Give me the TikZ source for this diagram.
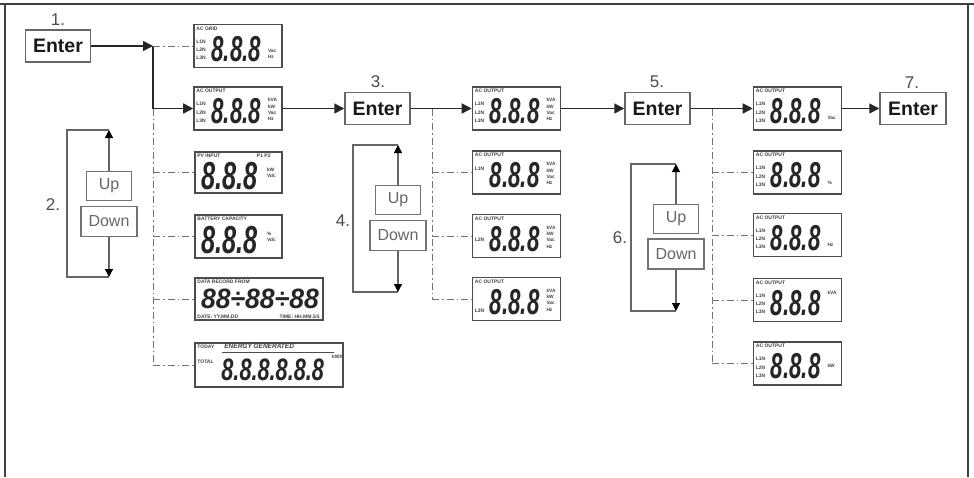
\documentclass[tikz,border=0pt]{standalone}
\usepackage{fontspec}
\setmainfont{Liberation Sans}
\usepackage{graphicx}
\usetikzlibrary{arrows.meta,calc}
\newcommand\tinyfont{\fontsize{5}{5.5}\selectfont\bfseries}
\newcommand\tinylines{\fontsize{5}{8.2}\selectfont\bfseries}
\newcommand\unitlines{\fontsize{4.8}{6.2}\selectfont\bfseries}
\newcommand\digfont{\fontsize{36}{36}\selectfont\bfseries\itshape}
\tikzset{
 enterbox/.style={draw=black!60, line width=1.5pt, font=\fontsize{19.5}{19.5}\selectfont\bfseries, text=black!90, minimum width=65pt, minimum height=32pt, inner sep=0pt},
 upbox/.style={draw=black!55, line width=1.1pt, font=\fontsize{16}{16}\selectfont, text=black!60, minimum width=45pt, minimum height=29pt, inner sep=0pt},
 downbox/.style={upbox, minimum width=56pt, minimum height=30pt},
 numlabel/.style={font=\fontsize{17}{17}\selectfont, text=black!70, inner sep=0pt},
 lcd/.style={draw=black!70, line width=1.6pt, minimum width=88pt, minimum height=43pt, inner sep=0pt},
 tiny/.style={font=\tinyfont, text=black!75, inner sep=0pt},
 dig/.style={font=\digfont, text=black!85, inner sep=0pt},
 mainarrow/.style={draw=black!85, line width=1.6pt, -{Triangle[length=10pt,width=10pt]}},
 mainline/.style={draw=black!85, line width=1.6pt},
 dashdot/.style={draw=black!55, line width=0.9pt, dash pattern=on 7pt off 3pt on 1.5pt off 3pt},
 udarrow/.style={draw=black!60, line width=1.2pt, -{Triangle[length=8pt,width=8pt,color=black]}},
 bracket/.style={draw=black!60, line width=1.2pt},
 frame/.style={draw=black!75, line width=1.6pt},
}
% #1 name, #2 centre, #3 title, #4 left labels, #5 units, #6 units vertical offset
\newcommand\acpanel[6]{%
 \node[lcd] (#1) at (#2) {};
 \node[tiny, anchor=north west] at ($(#1.north west)+(3,3)$) {#3};
 \node[tiny, anchor=west, align=left, font=\tinylines] at ($(#1.west)+(3,4)$) {#4};
 \node[dig, anchor=west] at ($(#1.west)+(18,3)$) {\scalebox{0.62}[1]{8.8.8}};
 \node[tiny, anchor=west, align=left, font=\unitlines] at ($(#1.east)+(-15,#6)$) {#5};
}
\begin{document}
\begin{tikzpicture}[x=1pt,y=-1pt]
\useasboundingbox (0,0) rectangle (974,477);
\fill[white] (0,0) rectangle (974,477);
% frame
\draw[frame] (0,4) -- (974,4);
\draw[frame] (5,4) -- (5,477);
\draw[frame] (968,4) -- (968,477);

% Enter boxes and step numbers
\node[enterbox] (e1) at (58,46) {Enter};
\node[enterbox] (e3) at (377.5,108.5) {Enter};
\node[enterbox] (e5) at (657.5,108.5) {Enter};
\node[enterbox, minimum width=66pt] (e7) at (913,108.5) {Enter};
\node[numlabel] (n1) at (58,19.5) {1.};
\node[numlabel] (n3) at (378,81.5) {3.};
\node[numlabel] (n5) at (657,81.5) {5.};
\node[numlabel] (n7) at (912,82.5) {7.};

% column 1 panels
\acpanel{a1}{238,46}{AC GRID}{L1N\\L2N\\L3N}{Vac\\Hz}{8}
\acpanel{a2}{238,108.5}{AC OUTPUT}{L1N\\L2N\\L3N}{kVA\\kW\\Vac\\Hz}{1}
\node[lcd, minimum width=87pt, minimum height=41pt] (a3) at (238.5,172.5) {};
\node[tiny, anchor=north west] at ($(a3.north west)+(3,3)$) {PV INPUT};
\node[tiny, anchor=north east] at ($(a3.north east)+(-12,3)$) {P1 P2};
\node[dig, anchor=west, font=\fontsize{39}{39}\selectfont\bfseries\itshape] at ($(a3.west)+(7,4)$) {\scalebox{0.65}[1]{8.8.8}};
\node[tiny, anchor=west, align=left, font=\unitlines] at ($(a3.east)+(-16,0)$) {kW\\Vdc};
\node[lcd, minimum width=87pt, minimum height=43pt] (a4) at (238.5,236.5) {};
\node[tiny, anchor=north west] at ($(a4.north west)+(3,3)$) {BATTERY CAPACITY};
\node[dig, anchor=west, font=\fontsize{39}{39}\selectfont\bfseries\itshape] at ($(a4.west)+(7,4)$) {\scalebox{0.65}[1]{8.8.8}};
\node[tiny, anchor=west, align=left, font=\unitlines] at ($(a4.east)+(-16,0)$) {\%\\Vdc};
\node[lcd, minimum width=128pt, minimum height=42pt] (a5) at (259,299) {};
\node[tiny, anchor=north west] at ($(a5.north west)+(3,3)$) {DATA RECORD FROM};
\node[dig, font=\fontsize{28}{28}\selectfont\bfseries\itshape] at ($(a5.center)+(1,0)$) {\scalebox{0.95}[1]{88÷88÷88}};
\node[tiny, anchor=south west] at ($(a5.south west)+(3,-2)$) {DATE: YY.MM.DD};
\node[tiny, anchor=south east] at ($(a5.south east)+(-4,-2)$) {TIME: HH.MM.SS};
\node[lcd, minimum width=148pt, minimum height=44pt] (a6) at (269,365) {};
\node[tiny, anchor=north west] at ($(a6.north west)+(3,3)$) {TODAY};
\node[tiny, anchor=north west, font=\fontsize{6.5}{7}\selectfont\bfseries\itshape] (eg) at ($(a6.north west)+(30,2)$) {ENERGY GENERATED};
\draw[black!70, line width=0.8pt] ($(a6.north west)+(28,10)$) -- ($(a6.north east)+(-10,10)$);
\node[tiny, anchor=west] at ($(a6.west)+(3,-3)$) {TOTAL};
\node[dig, anchor=west, font=\fontsize{31}{31}\selectfont\bfseries\itshape] at ($(a6.west)+(27,5)$) {\scalebox{0.7}[1]{8.8.8.8.8.8}};
\node[tiny, anchor=west] at ($(a6.east)+(-12,-8)$) {kWh};

% column 2 panels
\acpanel{b1}{516.5,108.5}{AC OUTPUT}{L1N\\L2N\\L3N}{kVA\\kW\\Vac\\Hz}{1}
\acpanel{b2}{516.5,172.5}{AC OUTPUT}{L1N\\\phantom{L}\\\phantom{L}}{kVA\\kW\\Vac\\Hz}{1}
\acpanel{b3}{516.5,236}{AC OUTPUT}{\phantom{L}\\L2N\\\phantom{L}}{kVA\\kW\\Vac\\Hz}{1}
\acpanel{b4}{516.5,299}{AC OUTPUT}{\phantom{L}\\\phantom{L}\\L3N}{kVA\\kW\\Vac\\Hz}{1}

% column 3 panels
\acpanel{c1}{797.5,108.5}{AC OUTPUT}{L1N\\L2N\\L3N}{Vac}{9}
\acpanel{c2}{797.5,172.5}{AC OUTPUT}{L1N\\L2N\\L3N}{\%}{10}
\acpanel{c3}{797.5,235}{AC OUTPUT}{L1N\\L2N\\L3N}{Hz}{10}
\acpanel{c4}{797.5,300}{AC OUTPUT}{L1N\\L2N\\L3N}{kVA}{-7}
\acpanel{c5}{797.5,363.5}{AC OUTPUT}{L1N\\L2N\\L3N}{kW}{2}

% main flow
\coordinate (j1) at (153,46);
\coordinate (j1b) at (153,108.5);
\draw[mainarrow] (e1.east) -- (j1);
\draw[mainline] (j1) -- (j1b);
\draw[mainarrow] (j1b) -- (a2.west);
\draw[dashdot] (j1) -- (a1.west);
\draw[dashdot] (j1b) -- (j1b |- a6.west);
\foreach \n in {a3,a4,a5,a6} \draw[dashdot] (j1b |- \n.west) -- (\n.west);
\draw[mainarrow] (a2.east) -- (e3.west);
\draw[mainarrow] (e3.east) -- (b1.west);
\coordinate (j3) at (432,108.5);
\draw[dashdot] (j3) -- (j3 |- b4.west);
\foreach \n in {b2,b3,b4} \draw[dashdot] (j3 |- \n.west) -- (\n.west);
\draw[mainarrow] (b1.east) -- (e5.west);
\draw[mainarrow] (e5.east) -- (c1.west);
\coordinate (j5) at (712,108.5);
\draw[dashdot] (j5) -- (j5 |- c5.west);
\foreach \n in {c2,c3,c4,c5} \draw[dashdot] (j5 |- \n.west) -- (\n.west);
\draw[mainarrow] (c1.east) -- (e7.west);

% Up/Down group 2
\node[upbox] (u2) at (109,186) {Up};
\node[downbox] (d2) at (109,221.5) {Down};
\node[numlabel] (n2) at (53,205) {2.};
\coordinate (t2) at (109,130);
\coordinate (b2x) at (109,277);
\coordinate (tl2) at (67,130);
\coordinate (bl2) at (67,277);
\draw[bracket] (t2) -- (tl2) -- (bl2) -- (b2x);
\draw[udarrow] (u2.north) -- (t2);
\draw[udarrow] (d2.south) -- (b2x);

% Up/Down group 4
\node[upbox] (u4) at (398,200) {Up};
\node[downbox] (d4) at (398,235.5) {Down};
\node[numlabel] (n4) at (343,221) {4.};
\coordinate (t4) at (398,145);
\coordinate (b4x) at (398,292);
\coordinate (tl4) at (353,145);
\coordinate (bl4) at (353,292);
\draw[bracket] (t4) -- (tl4) -- (bl4) -- (b4x);
\draw[udarrow] (u4.north) -- (t4);
\draw[udarrow] (d4.south) -- (b4x);

% Up/Down group 6
\node[upbox] (u6) at (676,219) {Up};
\node[downbox] (d6) at (676,254) {Down};
\node[numlabel] (n6) at (620,238) {6.};
\coordinate (t6) at (676,164);
\coordinate (b6x) at (676,311);
\coordinate (tl6) at (631,164);
\coordinate (bl6) at (631,311);
\draw[bracket] (t6) -- (tl6) -- (bl6) -- (b6x);
\draw[udarrow] (u6.north) -- (t6);
\draw[udarrow] (d6.south) -- (b6x);
\end{tikzpicture}
\end{document}
